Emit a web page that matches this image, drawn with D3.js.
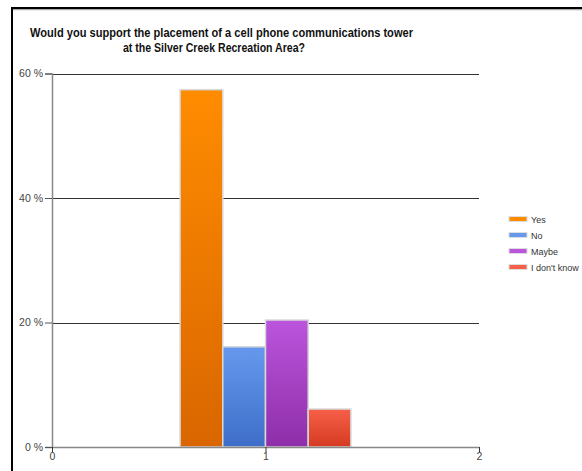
<!DOCTYPE html>
<html>
<head>
<meta charset="utf-8">
<script src="https://cdnjs.cloudflare.com/ajax/libs/d3/7.8.5/d3.min.js"></script>
<style>
  html, body { margin: 0; padding: 0; background: #fff; }
  svg { display: block; font-family: "Liberation Sans", Arial, sans-serif; }
</style>
</head>
<body>
<svg id="chart" width="582" height="471"></svg>
<script>
// Survey answers and their share of responses (percent)
const answers = ["Yes", "No", "Maybe", "I don't know"];
const shares = [57.4, 16.1, 20.4, 6.1];
const topColors = ["#ff8c00", "#6699ee", "#bb55dd", "#f66048"];
const bottomColors = ["#d96600", "#3e6ec8", "#8e2ea8", "#d63a22"];
const yTicks = [0, 20, 40, 60];
const xTicks = [0, 1, 2];
const titleLines = [
  "Would you support the placement of a cell phone communications tower",
  "at the Silver Creek Recreation Area?"
];

const svg = d3.select("#chart");

// Frame: black rules along the top and left edges with a soft shadow under the top
svg.append("line").attr("x1", 11).attr("x2", 582).attr("y1", 9.5).attr("y2", 9.5)
  .attr("stroke", "#aaa").attr("stroke-width", 1.5);
svg.append("line").attr("x1", 11).attr("x2", 582).attr("y1", 8).attr("y2", 8)
  .attr("stroke", "#000").attr("stroke-width", 2);
svg.append("line").attr("x1", 12).attr("x2", 12).attr("y1", 7).attr("y2", 471)
  .attr("stroke", "#000").attr("stroke-width", 2);

// Title, two lines
const titleX = [30, 123];
const titleW = [383, 182];
svg.append("g").selectAll("text").data(titleLines).join("text")
  .attr("x", (d, i) => titleX[i])
  .attr("y", (d, i) => 36.5 + i * 15)
  .attr("font-weight", "bold").attr("font-size", 13).attr("fill", "#111")
  .attr("textLength", (d, i) => titleW[i])
  .attr("lengthAdjust", "spacingAndGlyphs")
  .text(d => d);

const x = d3.scaleLinear().domain([0, 2]).range([52, 479]);
const y = d3.scaleLinear().domain([0, 60]).range([447, 73.5]);

// Gradients for each bar
const defs = svg.append("defs");
answers.forEach((a, i) => {
  const g = defs.append("linearGradient").attr("id", "grad" + i)
    .attr("x1", 0).attr("x2", 0).attr("y1", 0).attr("y2", 1);
  g.append("stop").attr("offset", "0%").attr("stop-color", topColors[i]);
  g.append("stop").attr("offset", "100%").attr("stop-color", bottomColors[i]);
});

// Horizontal grid lines
svg.append("g").selectAll("line").data(yTicks.filter(d => d > 0)).join("line")
  .attr("x1", x(0)).attr("x2", x(2))
  .attr("y1", d => Math.round(y(d)) + 0.5).attr("y2", d => Math.round(y(d)) + 0.5)
  .attr("stroke", "#333").attr("stroke-width", 1);

// Bars grouped around category 1
const groupWidth = 0.8;
const barW = groupWidth / answers.length;
svg.append("g").selectAll("rect").data(shares).join("rect")
  .attr("x", (d, i) => x(1 - groupWidth / 2 + i * barW))
  .attr("width", x(barW) - x(0))
  .attr("y", d => y(d))
  .attr("height", d => y(0) - y(d))
  .attr("fill", (d, i) => `url(#grad${i})`)
  .attr("stroke", "#d8d8d8").attr("stroke-width", 1.5);

// Y axis
const yAxis = svg.append("g").attr("transform", `translate(${x(0)},0)`)
  .call(d3.axisLeft(y).tickValues(yTicks).tickFormat(d => d + " %").tickSize(7).tickPadding(2));
yAxis.select(".domain").attr("stroke", "#888").attr("stroke-width", 1.5);
yAxis.selectAll(".tick line").attr("stroke", "#555");
yAxis.selectAll(".tick text").attr("fill", "#444").attr("font-size", 10.5)
  .attr("font-family", "Liberation Sans, Arial, sans-serif");

// X axis
const xAxis = svg.append("g").attr("transform", `translate(0,${y(0)})`)
  .call(d3.axisBottom(x).tickValues(xTicks).tickFormat(d3.format("d")).tickSize(5).tickPadding(1).tickSizeOuter(0));
xAxis.select(".domain").attr("stroke", "#888").attr("stroke-width", 1.5);
xAxis.selectAll(".tick line").attr("stroke", "#333");
xAxis.selectAll(".tick text").attr("fill", "#444").attr("font-size", 10.5)
  .attr("font-family", "Liberation Sans, Arial, sans-serif");

// Legend
const legend = svg.append("g").attr("transform", "translate(509,219)");
const item = legend.selectAll("g").data(answers).join("g")
  .attr("transform", (d, i) => `translate(0,${i * 16})`);
item.append("rect").attr("x", 0).attr("y", -2.5).attr("width", 18).attr("height", 5)
  .attr("fill", (d, i) => topColors[i]).attr("stroke", "#ddd").attr("stroke-width", 1);
item.append("text").attr("x", 22).attr("y", 3.5).attr("font-size", 9)
  .attr("fill", "#333").text(d => d);
</script>
</body>
</html>
